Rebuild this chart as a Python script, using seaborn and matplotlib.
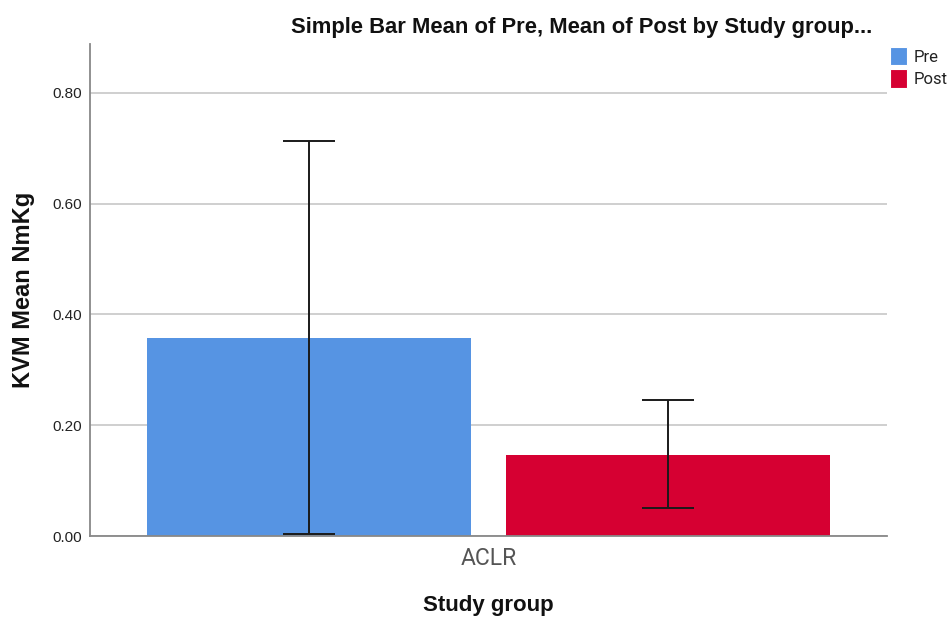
import matplotlib
matplotlib.use("Agg")
import matplotlib.pyplot as plt
import seaborn as sns
import pandas as pd
import numpy as np
from matplotlib.patches import Patch

groups = ["ACLR"]
series = ["Pre", "Post"]
means = [0.358, 0.146]
ci_low = [0.004, 0.051]
ci_high = [0.713, 0.246]
colors = ["#5694E3", "#D60032"]
yticks = [0.0, 0.2, 0.4, 0.6, 0.8]

df = pd.DataFrame({"Study group": groups * len(series), "Series": series, "Mean": means})

sns.set_theme(style="white")
plt.rcParams["font.family"] = ["Liberation Sans", "DejaVu Sans"]

fig = plt.figure(figsize=(9.53, 6.17), dpi=100)
ax = fig.add_axes([90/953, 1-536/617, (887-90)/953, (536-44)/617])

sns.barplot(data=df, x="Study group", y="Mean", hue="Series", hue_order=series,
            palette=colors, width=0.8, gap=0.1, errorbar=None, ax=ax,
            saturation=1, legend=False, zorder=2, linewidth=0, edgecolor="none")

for patch, m, lo, hi in zip(ax.patches, means, ci_low, ci_high):
    xc = patch.get_x() + patch.get_width() / 2
    ax.errorbar(xc, m, yerr=[[m - lo], [hi - m]], fmt="none", ecolor="#1a1a1a",
                elinewidth=1.4, capsize=19, capthick=1.4, zorder=3)

ax.set_xlim(-0.443, 0.443)
ax.set_ylim(0, 0.888)
ax.set_yticks(yticks)
ax.set_yticklabels([f"{t:.2f}" for t in yticks], fontsize=11, color="#222222")
ax.yaxis.grid(True, color="#cccccc", linewidth=1.3, zorder=0)
ax.set_axisbelow(True)
ax.tick_params(axis="x", length=0, pad=8)
for lab in ax.get_xticklabels():
    lab.set_fontfamily(["Roboto", "DejaVu Sans"])
    lab.set_fontsize(16.5)
    lab.set_color("#555555")
ax.tick_params(axis="y", length=0, pad=6)
for s in ["top", "right"]:
    ax.spines[s].set_visible(False)
for s in ["left", "bottom"]:
    ax.spines[s].set_color("#888888")
    ax.spines[s].set_linewidth(1.3)

ax.set_xlabel("Study group", fontsize=16, fontweight="bold", labelpad=18, color="#111111")
ax.set_ylabel("KVM Mean NmKg", fontsize=17, fontweight="bold", labelpad=12, color="#111111")

fig.text(582/953, 1-27/617, "Simple Bar Mean of Pre, Mean of Post by Study group...",
         ha="center", va="center", fontsize=15.8, fontweight="bold", color="#111111")

handles = [Patch(facecolor=c, edgecolor="#ffffff", linewidth=0.8) for c in colors]
leg = fig.legend(handles, series, loc="upper left", bbox_to_anchor=(890/953, 1-47/617),
                 frameon=False, handlelength=1.0, handleheight=1.3,
                 handletextpad=0.4, labelspacing=0.25, borderaxespad=0, borderpad=0,
                 prop={"family": ["Roboto", "DejaVu Sans"], "size": 12})
for t in leg.get_texts():
    t.set_color("#222222")

fig.savefig("out.png", dpi=100)
